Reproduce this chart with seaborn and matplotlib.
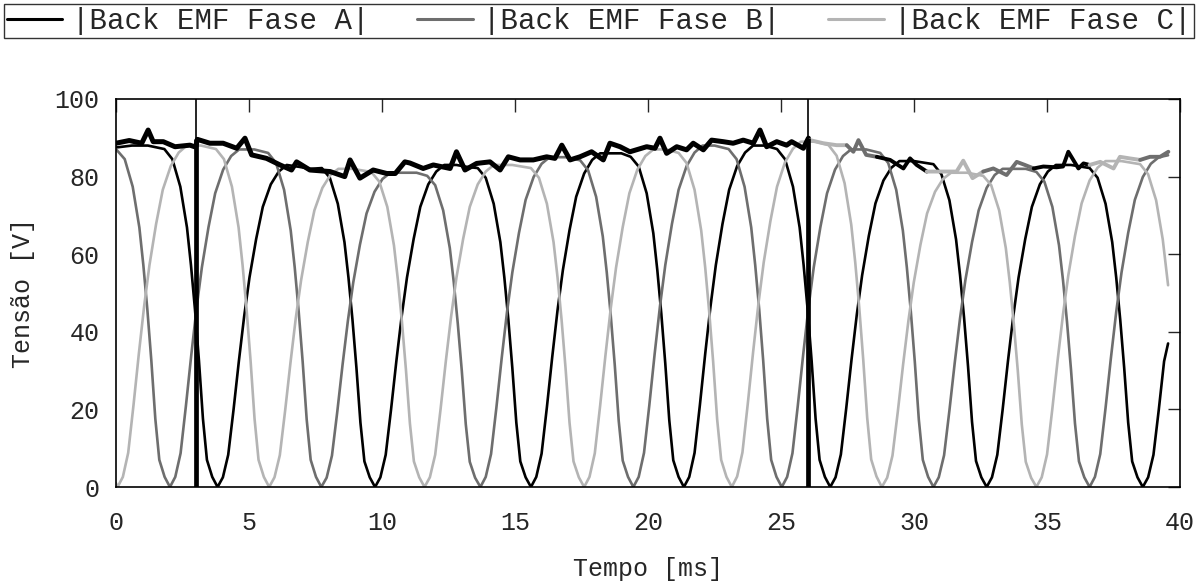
import numpy as np
import pandas as pd
import seaborn as sns
import matplotlib
matplotlib.use("Agg")
import matplotlib.pyplot as plt

# |Back EMF| per phase (time in ms, voltage in V)
t_a = [0.0, 0.6, 1.2, 1.82, 2.12, 2.42, 2.67, 2.82, 2.97, 3.12, 3.27, 3.42, 3.62, 3.82,
       4.02, 4.22, 4.42, 4.62, 4.82, 5.02, 5.27, 5.52, 5.82, 6.12, 6.42, 6.9, 7.3,
       7.74, 8.04, 8.34, 8.59, 8.74, 8.89, 9.04, 9.19, 9.34, 9.54, 9.74,
       9.94, 10.14, 10.34, 10.54, 10.74, 10.94, 11.19, 11.44, 11.74, 12.04, 12.34, 12.8, 13.2,
       13.6, 13.9, 14.2, 14.45, 14.6, 14.75, 14.9, 15.05, 15.2, 15.4, 15.6,
       15.8, 16.0, 16.2, 16.4, 16.6, 16.8, 17.05, 17.3, 17.6, 17.9, 18.2, 18.6, 19.0,
       19.35, 19.65, 19.95, 20.2, 20.35, 20.5, 20.65, 20.8, 20.95, 21.15, 21.35,
       21.55, 21.75, 21.95, 22.15, 22.35, 22.55, 22.8, 23.05, 23.35, 23.65, 23.95, 24.4,
       24.85, 25.15, 25.45, 25.7, 25.85, 26.0, 26.15, 26.3, 26.45, 26.65, 26.85,
       27.05, 27.25, 27.45, 27.65, 27.85, 28.05, 28.3, 28.55, 28.85, 29.15, 29.45, 30.0,
       30.73, 31.03, 31.33, 31.58, 31.73, 31.88, 32.03, 32.18, 32.33, 32.53, 32.73,
       32.93, 33.13, 33.33, 33.53, 33.73, 33.93, 34.18, 34.43, 34.73, 35.03, 35.33, 35.9,
       36.6, 36.9, 37.2, 37.45, 37.6, 37.75, 37.9, 38.05, 38.2, 38.4, 38.6,
       38.8, 39.0, 39.2, 39.4, 39.55]
v_a = [87.5, 88.0, 88.0, 87.1, 84.5, 77.4, 66.9, 57.2, 45.8, 32.6, 17.6, 7.0, 2.6, 0.0,
       2.5, 8.3, 19.9, 32.4, 44.0, 54.0, 63.9, 72.2, 78.0, 81.3, 83.0, 82.5, 82.0,
       82.2, 79.7, 73.0, 63.1, 54.0, 43.2, 30.7, 16.6, 6.6, 2.5, 0.0,
       2.5, 8.3, 19.9, 32.4, 44.0, 54.0, 63.9, 72.2, 78.0, 81.3, 83.0, 83.0, 82.5,
       82.2, 79.7, 73.0, 63.1, 54.0, 43.2, 30.7, 16.6, 6.6, 2.5, 0.0,
       2.6, 8.6, 20.6, 33.5, 45.6, 55.9, 66.2, 74.8, 80.8, 84.3, 86.0, 86.0, 86.0,
       85.1, 82.6, 75.7, 65.4, 55.9, 44.7, 31.8, 17.2, 6.9, 2.6, 0.0,
       2.6, 8.8, 21.1, 34.3, 46.6, 57.2, 67.8, 76.6, 82.7, 86.2, 88.0, 88.0,
       87.1, 84.5, 77.4, 66.9, 57.2, 45.8, 32.6, 17.6, 7.0, 2.6, 0.0,
       2.5, 8.4, 20.2, 32.8, 44.5, 54.6, 64.7, 73.1, 79.0, 82.3, 84.0, 84.0,
       83.2, 80.6, 73.9, 63.8, 54.6, 43.7, 31.1, 16.8, 6.7, 2.5, 0.0,
       2.5, 8.3, 19.9, 32.4, 44.0, 54.0, 63.9, 72.2, 78.0, 81.3, 83.0, 83.0,
       82.2, 79.7, 73.0, 63.1, 54.0, 43.2, 30.7, 16.6, 6.6, 2.5, 0.0,
       2.5, 8.3, 19.9, 32.4, 37.0]

t_b = [0.0, 0.33, 0.63, 0.88, 1.03, 1.18, 1.33, 1.48, 1.63, 1.83, 2.03,
       2.23, 2.43, 2.63, 2.83, 3.03, 3.23, 3.48, 3.73, 4.03, 4.33, 4.63, 5.2,
       5.72, 6.02, 6.32, 6.57, 6.72, 6.87, 7.02, 7.17, 7.32, 7.52, 7.72,
       7.92, 8.12, 8.32, 8.52, 8.72, 8.92, 9.17, 9.42, 9.72, 10.02, 10.32, 10.9, 11.3,
       11.7, 12.0, 12.3, 12.55, 12.7, 12.85, 13.0, 13.15, 13.3, 13.5, 13.7,
       13.9, 14.1, 14.3, 14.5, 14.7, 14.9, 15.15, 15.4, 15.7, 16.0, 16.3, 16.9,
       17.45, 17.75, 18.05, 18.3, 18.45, 18.6, 18.75, 18.9, 19.05, 19.25, 19.45,
       19.65, 19.85, 20.05, 20.25, 20.45, 20.65, 20.9, 21.15, 21.45, 21.75, 22.05, 22.5,
       23.03, 23.33, 23.63, 23.88, 24.03, 24.18, 24.33, 24.48, 24.63, 24.83, 25.03,
       25.23, 25.43, 25.63, 25.83, 26.03, 26.23, 26.48, 26.73, 27.03, 27.33, 27.63, 28.2,
       28.73, 29.03, 29.33, 29.58, 29.73, 29.88, 30.03, 30.18, 30.33, 30.53, 30.73,
       30.93, 31.13, 31.33, 31.53, 31.73, 31.93, 32.18, 32.43, 32.73, 33.03, 33.33, 33.9, 34.2,
       34.6, 34.9, 35.2, 35.45, 35.6, 35.75, 35.9, 36.05, 36.2, 36.4, 36.6,
       36.8, 37.0, 37.2, 37.4, 37.6, 37.8, 38.05, 38.3, 38.6, 38.9, 39.2, 39.55]
v_b = [87.1, 84.5, 77.4, 66.9, 57.2, 45.8, 32.6, 17.6, 7.0, 2.6, 0.0,
       2.6, 8.7, 20.9, 33.9, 46.1, 56.6, 67.0, 75.7, 81.8, 85.3, 87.0, 87.0,
       86.1, 83.5, 76.6, 66.1, 56.6, 45.2, 32.2, 17.4, 7.0, 2.6, 0.0,
       2.4, 8.1, 19.4, 31.6, 42.9, 52.7, 62.4, 70.5, 76.1, 79.4, 81.0, 81.0, 81.0,
       80.2, 77.8, 71.3, 61.6, 52.7, 42.1, 30.0, 16.2, 6.5, 2.4, 0.0,
       2.6, 8.5, 20.4, 33.2, 45.1, 55.3, 65.5, 74.0, 79.9, 83.3, 85.0, 85.0,
       84.2, 81.6, 74.8, 64.6, 55.3, 44.2, 31.5, 17.0, 6.8, 2.6, 0.0,
       2.6, 8.8, 21.1, 34.3, 46.6, 57.2, 67.8, 76.6, 82.7, 86.2, 88.0, 88.0,
       87.1, 84.5, 77.4, 66.9, 57.2, 45.8, 32.6, 17.6, 7.0, 2.6, 0.0,
       2.6, 8.7, 20.9, 33.9, 46.1, 56.6, 67.0, 75.7, 81.8, 85.3, 87.0, 87.0,
       86.1, 83.5, 76.6, 66.1, 56.6, 45.2, 32.2, 17.4, 7.0, 2.6, 0.0,
       2.5, 8.2, 19.7, 32.0, 43.5, 53.3, 63.1, 71.3, 77.1, 80.4, 82.0, 82.0, 82.0,
       81.2, 78.7, 72.2, 62.3, 53.3, 42.6, 30.3, 16.4, 6.6, 2.5, 0.0,
       2.6, 8.5, 20.4, 33.2, 45.1, 55.3, 65.5, 74.0, 79.9, 83.3, 85.0, 85.5]

t_c = [0.0, 0.06,
       0.26, 0.46, 0.66, 0.86, 1.06, 1.26, 1.51, 1.76, 2.06, 2.36, 2.66, 3.2,
       3.76, 4.06, 4.36, 4.61, 4.76, 4.91, 5.06, 5.21, 5.36, 5.56, 5.76,
       5.96, 6.16, 6.36, 6.56, 6.76, 6.96, 7.21, 7.46, 7.76, 8.06, 8.36, 8.9,
       9.6, 9.9, 10.2, 10.45, 10.6, 10.75, 10.9, 11.05, 11.2, 11.4, 11.6,
       11.8, 12.0, 12.2, 12.4, 12.6, 12.8, 13.05, 13.3, 13.6, 13.9, 14.2, 14.9,
       15.6, 15.9, 16.2, 16.45, 16.6, 16.75, 16.9, 17.05, 17.2, 17.4, 17.6,
       17.8, 18.0, 18.2, 18.4, 18.6, 18.8, 19.05, 19.3, 19.6, 19.9, 20.2, 20.7,
       21.15, 21.45, 21.75, 22.0, 22.15, 22.3, 22.45, 22.6, 22.75, 22.95, 23.15,
       23.35, 23.55, 23.75, 23.95, 24.15, 24.35, 24.6, 24.85, 25.15, 25.45, 25.75, 26.3,
       26.79, 27.09, 27.39, 27.64, 27.79, 27.94, 28.09, 28.24, 28.39, 28.59, 28.79,
       28.99, 29.19, 29.39, 29.59, 29.79, 29.99, 30.24, 30.49, 30.79, 31.09, 31.39, 32.0,
       32.6, 32.9, 33.2, 33.45, 33.6, 33.75, 33.9, 34.05, 34.2, 34.4, 34.6,
       34.8, 35.0, 35.2, 35.4, 35.6, 35.8, 36.05, 36.3, 36.6, 36.9, 37.2, 37.8,
       38.5, 38.8, 39.1, 39.35, 39.55]
v_c = [1.0, 0.0,
       2.6, 8.8, 21.1, 34.3, 46.6, 57.2, 67.8, 76.6, 82.7, 86.2, 88.0, 88.0,
       87.1, 84.5, 77.4, 66.9, 57.2, 45.8, 32.6, 17.6, 7.0, 2.6, 0.0,
       2.5, 8.2, 19.7, 32.0, 43.5, 53.3, 63.1, 71.3, 77.1, 80.4, 82.0, 82.0,
       81.2, 78.7, 72.2, 62.3, 53.3, 42.6, 30.3, 16.4, 6.6, 2.5, 0.0,
       2.5, 8.3, 19.9, 32.4, 44.0, 54.0, 63.9, 72.2, 78.0, 81.3, 83.0, 83.0,
       82.2, 79.7, 73.0, 63.1, 54.0, 43.2, 30.7, 16.6, 6.6, 2.5, 0.0,
       2.6, 8.7, 20.9, 33.9, 46.1, 56.6, 67.0, 75.7, 81.8, 85.3, 87.0, 87.0,
       86.1, 83.5, 76.6, 66.1, 56.6, 45.2, 32.2, 17.4, 7.0, 2.6, 0.0,
       2.7, 8.9, 21.4, 34.7, 47.2, 57.9, 68.5, 77.4, 83.7, 87.2, 89.0, 89.0,
       88.1, 85.4, 78.3, 67.6, 57.9, 46.3, 32.9, 17.8, 7.1, 2.7, 0.0,
       2.4, 8.1, 19.4, 31.6, 42.9, 52.7, 62.4, 70.5, 76.1, 79.4, 81.0, 81.0,
       80.2, 77.8, 71.3, 61.6, 52.7, 42.1, 30.0, 16.2, 6.5, 2.4, 0.0,
       2.5, 8.4, 20.2, 32.8, 44.5, 54.6, 64.7, 73.1, 79.0, 82.3, 84.0, 84.0,
       83.2, 80.6, 73.9, 63.8, 52.0]

# noisy top trace (peak level), black until the second marker
t_top = [0.0, 0.5, 0.97, 1.21, 1.4, 1.78, 2.22, 2.78, 3.0, 3.06, 3.53, 4.03, 4.54, 4.85, 5.1,
         5.66, 6.17, 6.6, 6.79, 7.29, 8.05, 8.6, 8.8, 9.17, 9.67, 10.18, 10.5, 10.86, 11.05,
         11.55, 11.93, 12.56, 12.8, 13.12, 13.56, 14.06, 14.44, 14.75, 15.19, 15.69, 16.19,
         16.5, 16.76, 17.07, 17.44, 17.88, 18.32, 18.57, 18.95, 19.32, 19.95, 20.26, 20.45,
         20.7, 21.08, 21.45, 21.7, 22.08, 22.39, 22.83, 23.2, 23.58, 23.96, 24.21, 24.46,
         24.84, 25.21, 25.4, 25.84, 26.03]
v_top = [88.6, 89.3, 88.6, 92.0, 89.0, 89.0, 87.7, 88.1, 87.6, 89.6, 88.6, 88.6, 87.3, 89.9, 85.6,
         84.7, 83.0, 81.7, 83.8, 81.7, 81.3, 80.0, 84.3, 79.6, 81.7, 80.8, 80.8, 83.8, 83.5,
         82.1, 83.0, 82.1, 86.4, 81.7, 83.4, 83.8, 81.7, 85.1, 84.3, 84.3, 85.1,
         84.7, 88.1, 84.3, 85.1, 86.4, 84.3, 88.6, 87.7, 86.4, 87.7, 87.3, 89.9,
         86.0, 87.7, 86.9, 88.6, 86.9, 89.4, 89.0, 88.6, 89.4, 88.6, 92.0, 87.7,
         89.0, 88.1, 89.0, 87.3, 89.9]

# top trace after the second marker, per phase segment
seg_phase = ["C", "B", "A", "C", "B", "A", "C", "B"]
seg_t = [[26.09, 26.59, 27.09, 27.47],
         [27.47, 27.72, 27.91, 28.2, 28.6],
         [28.6, 29.1, 29.6, 29.85, 30.1, 30.48],
         [30.48, 31.1, 31.6, 31.85, 32.2, 32.6],
         [32.6, 32.98, 33.48, 33.86, 34.17, 34.5],
         [34.5, 34.86, 35.36, 35.6, 35.8, 36.18, 36.37, 36.6],
         [36.6, 37.0, 37.5, 37.74, 38.1, 38.5],
         [38.5, 38.87, 39.25, 39.56]]
seg_v = [[89.4, 88.6, 88.1, 88.1],
         [88.1, 86.4, 89.4, 85.6, 85.1],
         [85.1, 84.3, 82.1, 84.7, 83.0, 81.3],
         [81.3, 81.3, 81.3, 84.1, 79.6, 81.3],
         [81.3, 82.1, 80.4, 83.8, 83.0, 82.1],
         [82.1, 82.6, 82.4, 82.6, 86.4, 82.1, 83.4, 83.0],
         [83.0, 83.8, 82.1, 85.1, 84.7, 84.3],
         [84.3, 85.1, 85.1, 86.4]]

marker_t = [3.0, 26.03]
marker_top = [89.6, 89.9]

labels = {"A": "|Back EMF Fase A|", "B": "|Back EMF Fase B|", "C": "|Back EMF Fase C|"}
colors = {"A": "#000000", "B": "#6e6e6e", "C": "#b4b4b4"}

df = pd.concat([
    pd.DataFrame({"t": t_a, "v": v_a, "fase": labels["A"]}),
    pd.DataFrame({"t": t_b, "v": v_b, "fase": labels["B"]}),
    pd.DataFrame({"t": t_c, "v": v_c, "fase": labels["C"]}),
])

sns.set_style("white")
plt.rcParams["font.family"] = ["Liberation Mono", "DejaVu Sans Mono"]

fig = plt.figure(figsize=(11.99, 5.82), dpi=100)
ax = fig.add_axes([0.0967, 0.1632, 0.8875, 0.6667])

sns.lineplot(data=df, x="t", y="v", hue="fase", palette=[colors[k] for k in "ABC"],
             estimator=None, sort=False, linewidth=1.9, ax=ax, legend=False)

sns.lineplot(x=t_top, y=v_top, color="black", linewidth=3.6, estimator=None, sort=False, ax=ax)
for ph, ts, vs in zip(seg_phase, seg_t, seg_v):
    sns.lineplot(x=ts, y=vs, color=colors[ph], linewidth=2.8, estimator=None, sort=False, ax=ax)

ax.vlines(marker_t, 0, marker_top, color="black", linewidth=3.4)
ax.vlines(marker_t, marker_top, 100, color="black", linewidth=1.2)

ax.set_xlim(0, 40)
ax.set_ylim(0, 100)
ax.set_xticks(range(0, 41, 5))
ax.set_yticks(range(0, 101, 20))
ax.tick_params(direction="in", length=9, width=1, top=True, right=True, labelsize=18)
ax.tick_params(axis="y", pad=12)
ax.tick_params(axis="x", pad=17)
for s in ax.spines.values():
    s.set_visible(True)
    s.set_color("black")
    s.set_linewidth(1.2)
ax.set_xlabel("Tempo [ms]", fontsize=18, labelpad=16)
ax.set_ylabel("Tensão [V]", fontsize=18, labelpad=14)

handles = [plt.Line2D([], [], color=colors[k], linewidth=2.2) for k in "ABC"]
leg = fig.legend(handles, [labels[k] for k in "ABC"], loc="lower left", ncol=3, mode="expand",
                 bbox_to_anchor=(0.003, 0.935, 0.993, 0.06), borderaxespad=0, fontsize=21,
                 frameon=True, fancybox=False, handlelength=1.9, handletextpad=0.35,
                 borderpad=0.1, columnspacing=0.3)
leg.get_frame().set_edgecolor("black")
leg.get_frame().set_linewidth(1.0)

fig.savefig("out.png", dpi=100)
